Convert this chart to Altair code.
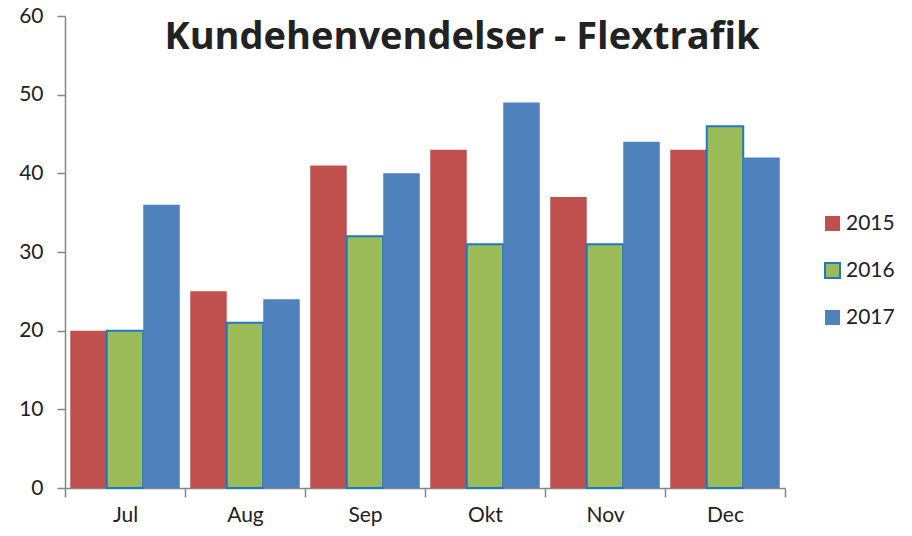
import altair as alt
import pandas as pd

months = ["Jul", "Aug", "Sep", "Okt", "Nov", "Dec"]
years = ["2015", "2016", "2017"]
v2015 = [20, 25, 41, 43, 37, 43]
v2016 = [20, 21, 32, 31, 31, 46]
v2017 = [36, 24, 40, 49, 44, 42]
fills = ["#C0504D", "#9BBB59", "#4F81BD"]
strokes = ["transparent", "#1E78C8", "transparent"]
title_text = ["Kundehenvendelser - Flextrafik"]

rows = []
for yr, vals in zip(years, [v2015, v2016, v2017]):
    for m, v in zip(months, vals):
        rows.append({"month": m, "year": yr, "value": v})
df = pd.DataFrame(rows)

FONT = "Lato"
AX = "#868686"
TXT = "#222222"

legend = alt.Legend(
    title=None, orient="none", legendX=757, legendY=197,
    symbolType="square", symbolSize=225, symbolStrokeWidth=2,
    labelFontSize=21, labelFont=FONT, labelColor=TXT,
    rowPadding=24, labelOffset=3, padding=0,
)

bars = alt.Chart(df).mark_bar(strokeWidth=2).encode(
    x=alt.X("month:N", sort=months, title=None,
            scale=alt.Scale(paddingInner=0, paddingOuter=0),
            axis=alt.Axis(labelAngle=0, tickBand="extent", domainColor=AX,
                          domainWidth=1.5, tickColor=AX, tickWidth=1.5,
                          tickSize=9, labelFontSize=21, labelFont=FONT,
                          labelColor=TXT, labelBaseline="alphabetic",
                          labelPadding=24)),
    xOffset=alt.XOffset("year:N", sort=years,
                        scale=alt.Scale(paddingInner=0, paddingOuter=0.144)),
    y=alt.Y("value:Q", title=None,
            scale=alt.Scale(domain=[0, 60], nice=False),
            axis=alt.Axis(values=[0, 10, 20, 30, 40, 50, 60], grid=False,
                          domainColor=AX, domainWidth=1.5, tickColor=AX,
                          tickWidth=1.5, tickSize=8, labelFontSize=21,
                          labelFont=FONT, labelColor=TXT, labelPadding=14)),
    color=alt.Color("year:N", sort=years,
                    scale=alt.Scale(domain=years, range=fills), legend=legend),
    stroke=alt.Stroke("year:N", sort=years,
                      scale=alt.Scale(domain=years, range=strokes), legend=legend),
)

title = alt.Chart(pd.DataFrame({"t": title_text})).mark_text(
    font="Open Sans", fontSize=38, fontWeight="bold", color=TXT,
    align="center", baseline="alphabetic",
).encode(text="t:N", x=alt.value(397), y=alt.value(33))

chart = alt.layer(bars, title).properties(
    width=720, height=472,
    padding={"left": 57, "top": 8, "right": 119, "bottom": 40},
    autosize=alt.AutoSizeParams(type="none"),
).configure_view(stroke=None)

chart.save("out.html", embed_options={"renderer": "svg", "actions": False})
